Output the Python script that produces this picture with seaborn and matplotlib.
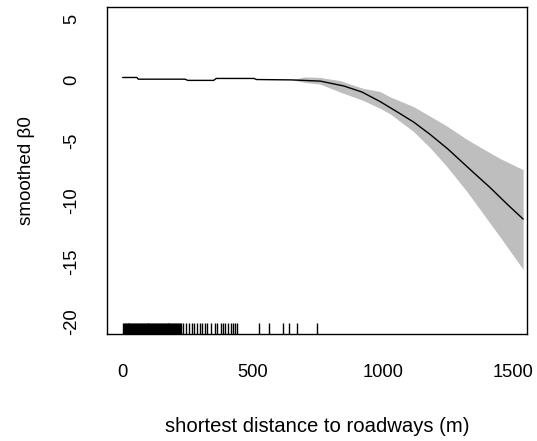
import matplotlib
matplotlib.use("Agg")
import matplotlib.pyplot as plt
import seaborn as sns
import pandas as pd

sns.set_style("white")
plt.rcParams["font.family"] = ["Liberation Sans", "DejaVu Sans"]
plt.rcParams["text.color"] = "black"
plt.rcParams["axes.labelcolor"] = "black"

# fitted smooth (s(distance))
fit_x = [0, 55, 60, 240, 250, 350, 360, 505, 515, 650, 760, 850, 920, 990,
         1060, 1120, 1182, 1250, 1336, 1413, 1480, 1540]
fit_y = [0.2, 0.2, 0.06, 0.06, -0.04, -0.04, 0.12, 0.12, 0.03, 0.0, -0.1,
         -0.5, -1.0, -1.79, -2.7, -3.5, -4.5, -5.7, -7.4, -8.9, -10.3, -11.5]

# confidence band
band_x = [650, 700, 760, 836, 925, 990, 1028, 1118, 1182, 1246, 1323, 1374,
          1452, 1540]
band_upper = [0.0, 0.25, 0.2, -0.06, -0.7, -0.96, -1.4, -2.2, -3.0, -3.8,
              -4.9, -5.55, -6.5, -7.42]
band_lower = [0.0, -0.2, -0.35, -1.0, -1.7, -2.35, -2.8, -4.26, -5.6, -7.14,
              -9.2, -10.7, -13.0, -15.66]

# observed distances (rug)
rug_x = [1, 4, 8, 11, 15, 19, 22, 26, 30, 33, 37, 41, 44, 48, 52, 55, 59, 63,
         66, 70, 74, 77, 81, 85, 88, 92, 96, 99, 103, 107, 110, 114, 118, 121,
         125, 129, 132, 136, 140, 143, 147, 151, 154, 158, 162, 165, 169, 173,
         176, 180, 184, 187, 191, 195, 198, 202, 206, 209, 213, 217, 220,
         226, 234, 245, 255, 267, 274, 285, 296, 306, 318, 325, 338, 354, 364,
         377, 387, 395, 405, 415, 423, 433, 440,
         525, 563, 618, 638, 669, 746]

x_ticks = [0, 500, 1000, 1500]
y_ticks = [-20, -15, -10, -5, 0, 5]
x_label = "shortest distance to roadways (m)"
y_label = "smoothed β0"

fig = plt.figure(figsize=(5.37, 4.41), dpi=100)
ax = fig.add_axes([107.3 / 537, 1 - 334 / 441, (527.3 - 107.3) / 537,
                   (334 - 7.3) / 441])

ax.fill_between(band_x, band_lower, band_upper, color="#BEBEBE", lw=0)
fit_df = pd.DataFrame({"x": fit_x, "y": fit_y})
sns.lineplot(data=fit_df, x="x", y="y", sort=False, estimator=None,
             color="black", lw=1.0, ax=ax)
sns.rugplot(x=rug_x, height=0.0346, color="black", lw=1.3,
            expand_margins=False, ax=ax)

ax.set_xlim(-59, 1556)
ax.set_ylim(-21, 6)
ax.set_xticks(x_ticks)
ax.set_yticks(y_ticks)
ax.set_xticklabels([str(t) for t in x_ticks])
ax.set_yticklabels([str(t) for t in y_ticks], rotation=90, va="center")
ax.tick_params(axis="both", direction="out", length=8.5, width=1,
               color="black", labelsize=13.2, labelcolor="black")
ax.tick_params(axis="x", pad=13)
ax.tick_params(axis="y", pad=11)
ax.set_xlabel(x_label, fontsize=14.6, labelpad=26)
ax.set_ylabel(y_label, fontsize=13.6, labelpad=20)

for s in ax.spines.values():
    s.set_visible(True)
    s.set_color("black")
    s.set_linewidth(1.0)

fig.savefig("out.png", dpi=100, facecolor="white")
